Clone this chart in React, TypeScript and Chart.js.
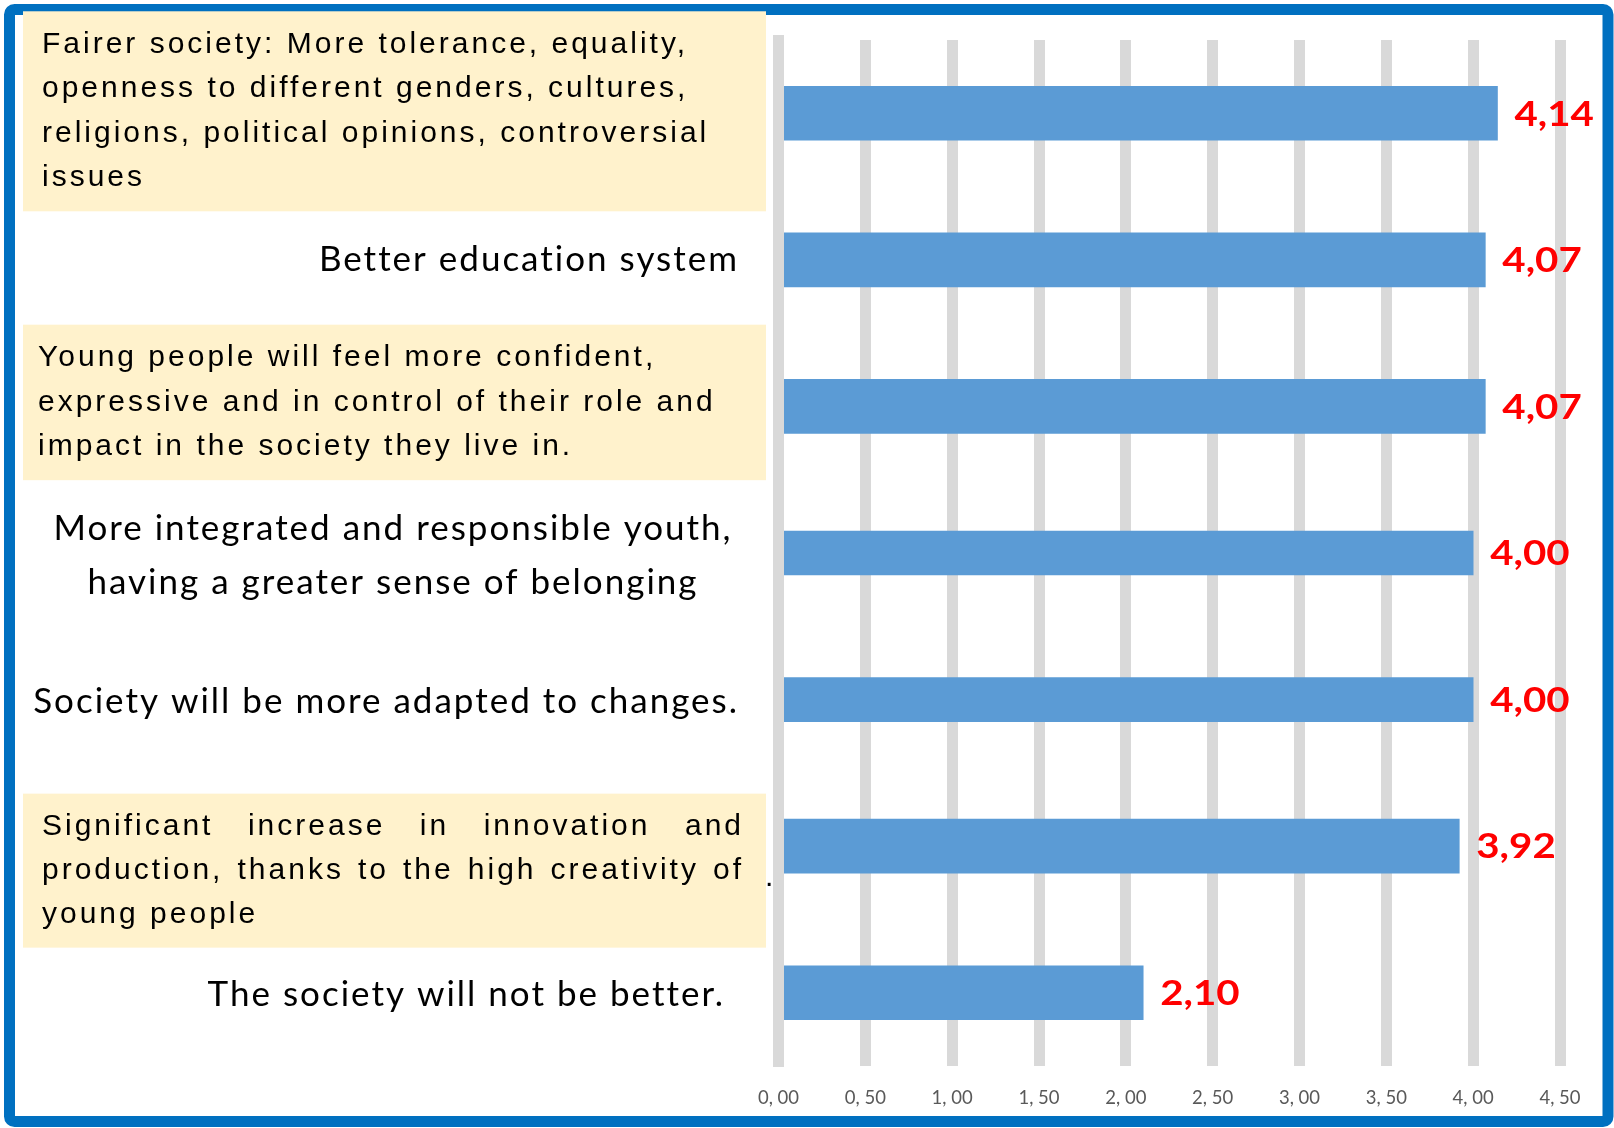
import React, { useEffect, useRef } from 'react';
import { Chart, registerables } from 'chart.js';

Chart.register(...registerables);

// ---------------- data ----------------
const CATEGORIES: string[][] = [
  [
    'Fairer society: More tolerance, equality,',
    'openness to different genders, cultures,',
    'religions, political opinions, controversial',
    'issues',
  ],
  ['Better education system'],
  [
    'Young people will feel more confident,',
    'expressive and in control of their role and',
    'impact in the society they live in.',
  ],
  ['More integrated and responsible youth,', 'having a greater sense of belonging'],
  ['Society will be more adapted to changes.'],
  [
    'Significant increase in innovation and',
    'production, thanks to the high creativity of',
    'young people',
  ],
  ['The society will not be better.'],
];

const VALUES: number[] = [4.14, 4.07, 4.07, 4.0, 4.0, 3.92, 2.1];

const X_TICK_MIN = 0;
const X_TICK_MAX = 4.5;
const X_TICK_STEP = 0.5;

// ---------------- styles ----------------
const W = 1614;
const H = 1128;
const BAR_COLOR = '#5B9BD5';
const GRID_COLOR = '#D9D9D9';
const FRAME_COLOR = '#0070C0';
const BOX_COLOR = '#FFF2CC';
const BAR_THICKNESS = [54, 54, 54, 44, 44, 54, 54];

type LabelLayout = {
  kind: 'box' | 'plain';
  dy: number;
  lineH: number;
  textX?: number;
  align?: 'left' | 'right' | 'center';
  x?: number;
  justify?: number;
  dot?: boolean;
};

const LABEL_LAYOUT: LabelLayout[] = [
  { kind: 'box', textX: 42, dy: -2, lineH: 44.5 },
  { kind: 'plain', align: 'right', x: 739, dy: 0, lineH: 54.5 },
  { kind: 'box', textX: 38, dy: -4, lineH: 44.5 },
  { kind: 'plain', align: 'center', x: 393, dy: 2.5, lineH: 54.5 },
  { kind: 'plain', align: 'right', x: 739, dy: 2, lineH: 54.5 },
  { kind: 'box', textX: 42, dy: 24.5, lineH: 44, justify: 702, dot: true },
  { kind: 'plain', align: 'right', x: 725, dy: 2, lineH: 54.5 },
];

const BOX_X = 23;
const BOX_W = 743;
const BOX_PAD = 22;
const BOX_FONT = '30px "Liberation Sans", Arial, sans-serif';
const BOX_SPACING = '3px';
const PLAIN_FONT = '35px Lato, "Open Sans", sans-serif';
const PLAIN_SPACING = '2px';
const VALUE_FONT = 'bold 35px Lato, "Open Sans", sans-serif';
const VALUE_STRETCH = 1.15;
const VALUE_GAP = 17;

function setSpacing(ctx: any, s: string) {
  if ('letterSpacing' in ctx) ctx.letterSpacing = s;
}

function drawJustified(ctx: CanvasRenderingContext2D, text: string, x: number, y: number, width: number) {
  const words = text.split(' ');
  const ws = words.map((w) => ctx.measureText(w).width);
  const total = ws.reduce((a, b) => a + b, 0);
  const gap = words.length > 1 ? (width - total) / (words.length - 1) : 0;
  let cx = x;
  words.forEach((w, k) => {
    ctx.fillText(w, cx, y);
    cx += ws[k] + gap;
  });
}

const decorPlugin = {
  id: 'decor',
  beforeDraw(chart: any) {
    const ctx: CanvasRenderingContext2D = chart.ctx;
    ctx.save();
    ctx.fillStyle = '#ffffff';
    ctx.fillRect(0, 0, chart.width, chart.height);
    ctx.strokeStyle = FRAME_COLOR;
    ctx.lineWidth = 11;
    ctx.lineJoin = 'round';
    ctx.beginPath();
    if ((ctx as any).roundRect) (ctx as any).roundRect(9.5, 9.5, 1598.5, 1112, 5);
    else ctx.rect(9.5, 9.5, 1598.5, 1112);
    ctx.stroke();
    ctx.restore();
  },
  afterDraw(chart: any) {
    const ctx: CanvasRenderingContext2D = chart.ctx;
    const yScale = chart.scales.y;
    const labels: string[][] = chart.data.labels;

    // category labels
    labels.forEach((lines, i) => {
      const L = LABEL_LAYOUT[i];
      const cy = yScale.getPixelForValue(i) + L.dy;
      ctx.save();
      ctx.textBaseline = 'middle';
      ctx.fillStyle = '#000000';
      if (L.kind === 'box') {
        const h = lines.length * L.lineH + BOX_PAD;
        ctx.fillStyle = BOX_COLOR;
        ctx.fillRect(BOX_X, cy - h / 2, BOX_W, h);
        ctx.fillStyle = '#000000';
        ctx.font = BOX_FONT;
        setSpacing(ctx, BOX_SPACING);
        ctx.textAlign = 'left';
        const y0 = cy - ((lines.length - 1) * L.lineH) / 2;
        lines.forEach((ln, k) => {
          const ly = y0 + k * L.lineH;
          if (L.justify && k < lines.length - 1) drawJustified(ctx, ln, L.textX!, ly, L.justify);
          else ctx.fillText(ln, L.textX!, ly);
        });
        if (L.dot) {
          setSpacing(ctx, '0px');
          ctx.textBaseline = 'alphabetic';
          ctx.fillText('.', BOX_X + BOX_W - 1, y0 + L.lineH + 15);
        }
      } else {
        ctx.font = PLAIN_FONT;
        setSpacing(ctx, PLAIN_SPACING);
        ctx.textAlign = L.align!;
        const y0 = cy - ((lines.length - 1) * L.lineH) / 2;
        lines.forEach((ln, k) => ctx.fillText(ln, L.x!, y0 + k * L.lineH));
      }
      ctx.restore();
    });

    // value labels
    ctx.save();
    ctx.font = VALUE_FONT;
    ctx.fillStyle = '#FF0000';
    ctx.textAlign = 'left';
    ctx.textBaseline = 'middle';
    chart.data.datasets.forEach((ds: any, d: number) => {
      const meta = chart.getDatasetMeta(d);
      ds.data.forEach((v: number | null, i: number) => {
        if (v === null || v === undefined) return;
        const el = meta.data[i];
        const txt = v.toFixed(2).replace('.', ',');
        ctx.save();
        ctx.scale(VALUE_STRETCH, 1);
        ctx.fillText(txt, (el.x + VALUE_GAP) / VALUE_STRETCH, el.y + 1);
        ctx.restore();
      });
    });
    ctx.restore();
  },
};

export default function App() {
  const ref = useRef<HTMLCanvasElement>(null);

  useEffect(() => {
    document.body.style.margin = '0';
    document.body.style.overflow = 'hidden';
    const canvas = ref.current!;
    const thicknesses = Array.from(new Set(BAR_THICKNESS));
    const datasets = thicknesses.map((t) => ({
      label: 'score-' + t,
      data: VALUES.map((v, i) => (BAR_THICKNESS[i] === t ? v : null)),
      backgroundColor: BAR_COLOR,
      borderWidth: 0,
      barThickness: t,
      grouped: false,
    }));

    const chart = new Chart(canvas, {
      type: 'bar',
      data: { labels: CATEGORIES as any, datasets: datasets as any },
      options: {
        indexAxis: 'y',
        responsive: false,
        animation: false,
        devicePixelRatio: 1,
        layout: { padding: { left: 0, right: 54, top: 40, bottom: 0 } },
        plugins: { legend: { display: false }, tooltip: { enabled: false } },
        scales: {
          x: {
            type: 'linear',
            position: 'bottom',
            min: X_TICK_MIN,
            max: X_TICK_MAX,
            ticks: {
              stepSize: X_TICK_STEP,
              color: '#595959',
              font: { family: 'Lato', size: 18.5 },
              padding: 21,
              maxRotation: 0,
              autoSkip: false,
              callback: (v: any) => Number(v).toFixed(2).replace('.', ', '),
            },
            grid: { color: GRID_COLOR, lineWidth: 11, drawTicks: false },
            border: { display: false },
            afterFit: (s: any) => {
              s.height = 62;
            },
          },
          y: {
            type: 'category',
            ticks: { display: false },
            grid: { display: false, drawTicks: false },
            border: { display: true, color: GRID_COLOR, width: 11, z: 1 },
            afterFit: (s: any) => {
              s.width = 778.5;
            },
          },
        },
      } as any,
      plugins: [decorPlugin],
    });
    return () => chart.destroy();
  }, []);

  return (
    <div style={{ width: W, height: H }}>
      <canvas ref={ref} width={W} height={H} style={{ display: 'block', width: W, height: H }} />
    </div>
  );
}
